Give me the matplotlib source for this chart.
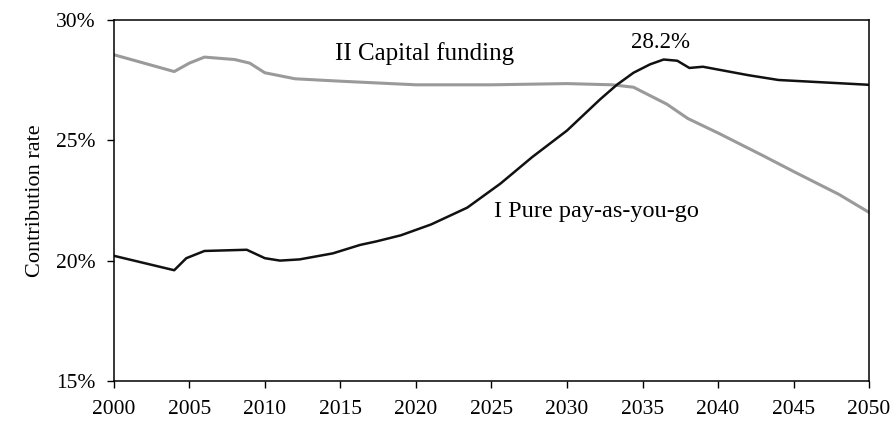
import matplotlib.pyplot as plt
from matplotlib.ticker import FuncFormatter

# contribution rate (%)
payg_years = [2000, 2004, 2004.8, 2006, 2008.8, 2010, 2011, 2012.3, 2014.5, 2016.3, 2017.4,
              2019, 2021, 2023.4, 2025.6, 2027.7, 2030, 2032.2, 2033.3, 2034.4, 2035.5,
              2036.4, 2037.3, 2038.1, 2039, 2042, 2044, 2047, 2050]
payg_rate = [20.2, 19.6, 20.1, 20.4, 20.45, 20.1, 20.0, 20.05, 20.3, 20.65, 20.8,
             21.05, 21.5, 22.2, 23.2, 24.3, 25.4, 26.7, 27.3, 27.8, 28.15,
             28.35, 28.3, 28.0, 28.05, 27.7, 27.5, 27.4, 27.3]

cap_years = [2000, 2002, 2004, 2005, 2006, 2008, 2009, 2010, 2012, 2015, 2020, 2025,
             2030, 2033, 2034.4, 2036.6, 2038, 2040, 2043, 2045, 2048, 2050]
cap_rate = [28.55, 28.2, 27.85, 28.2, 28.45, 28.35, 28.2, 27.8, 27.55, 27.45, 27.3, 27.3,
            27.35, 27.3, 27.2, 26.5, 25.9, 25.3, 24.35, 23.7, 22.75, 22.0]

plt.rcParams['font.family'] = ['Liberation Serif', 'DejaVu Serif']

fig = plt.figure(figsize=(8.96, 4.21), dpi=100)
ax = fig.add_axes([0.127, 0.095, 0.843, 0.858])

ax.plot(cap_years, cap_rate, color='#9a9a9a', lw=2.2)
ax.plot(payg_years, payg_rate, color='#111111', lw=1.8)

ax.set_xlim(2000, 2050)
ax.set_ylim(15, 30)
ax.set_xticks(range(2000, 2051, 5))
ax.set_yticks([15, 20, 25, 30])
ax.yaxis.set_major_formatter(FuncFormatter(lambda v, _: '{:.0f}%'.format(v)))
ax.tick_params(direction='out', length=5, labelsize=15.5, width=1)
ax.tick_params(axis='y', pad=8)
ax.tick_params(axis='x', pad=9)
for sp in ax.spines.values():
    sp.set_linewidth(1.1)

ax.set_ylabel('Contribution rate', fontsize=16, labelpad=8)

ax.text(2020.6, 28.6, 'II Capital funding', fontsize=18, ha='center', va='center')
ax.text(2025.2, 22.05, 'I Pure pay-as-you-go', fontsize=17.5, ha='left', va='center')
ax.text(2036.2, 29.05, '28.2%', fontsize=16.5, ha='center', va='center')

fig.savefig('out.png', dpi=100)
